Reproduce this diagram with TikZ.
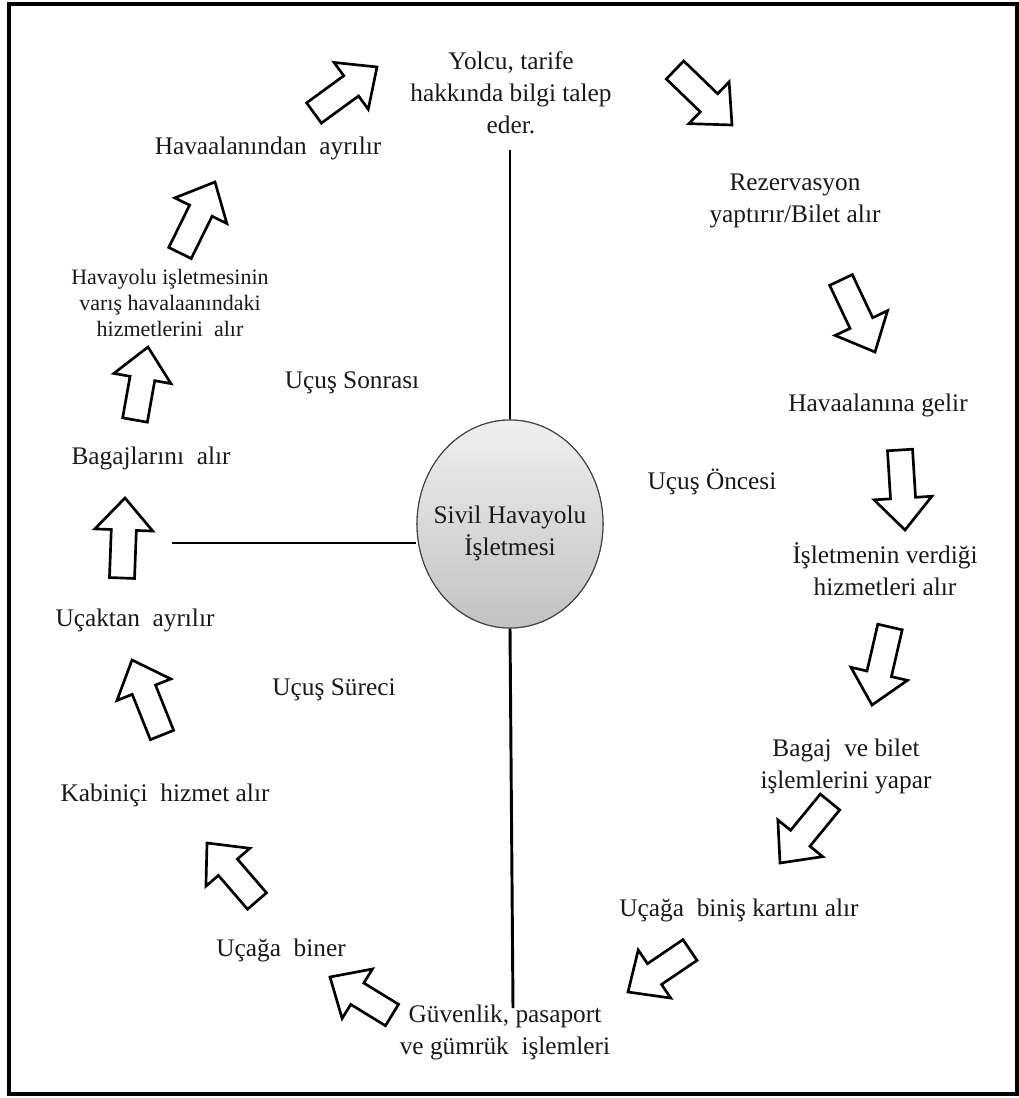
\documentclass[tikz,border=0pt]{standalone}
\usepackage{fontspec}
\setmainfont{Liberation Serif}
\usetikzlibrary{shapes.geometric,calc}
\newcommand\blockarr[2]{%
  \coordinate (bN) at ($(#2)!24pt!(#1)$);
  \draw[barrow] ($(#1)!9.4pt!90:(#2)$) -- ($(bN)!9.4pt!90:(#2)$) -- ($(bN)!21.75pt!90:(#2)$) -- (#2)
     -- ($(bN)!21.75pt!-90:(#2)$) -- ($(bN)!9.4pt!-90:(#2)$) -- ($(#1)!9.4pt!-90:(#2)$) -- cycle;}
\begin{document}
\begin{tikzpicture}[x=0.75pt,y=-0.75pt,
  txt/.style={font=\fontsize{19}{24}\selectfont, align=center, inner sep=0pt, text=black!90},
  smalltxt/.style={font=\fontsize{16.5}{19.5}\selectfont, align=center, inner sep=0pt, text=black!90},
  barrow/.style={draw=black, line width=2pt, fill=white, line join=miter},
  axis/.style={draw=black, line width=2.2pt},
  hub/.style={ellipse, draw=black!75, line width=0.8pt, minimum width=139.5pt, minimum height=156pt,
     inner sep=0pt, top color=black!6, bottom color=black!24}]
\useasboundingbox (0,0) rectangle (1019,1098);
\draw[line width=2.6pt] (9,4) rectangle (1017,1094);

% axes
\coordinate (topend) at (510,150);
\coordinate (botend) at (513,1008);
\coordinate (leftend) at (172,543);
\node[hub] (hub) at (510,524) {};
\draw[axis] (topend) -- (hub.north);
\draw[axis] (hub.south) -- (botend);
\draw[axis] (leftend) -- (leftend -| hub.west);
\node[hub] (hubtop) at (510,524) {};
\node[txt] (hubtext) at (510,533) {Sivil Havayolu\\İşletmesi};

% texts
\node[txt] (yolcu) at (511,93) {Yolcu, tarife\\hakkında bilgi talep\\eder.};
\node[txt] (rez) at (795,201) {Rezervasyon\\yaptırır/Bilet alır};
\node[txt] (gelir) at (878,405) {Havaalanına gelir};
\node[txt] (islet) at (885,569) {İşletmenin verdiği\\hizmetleri alır};
\node[txt] (bagaj) at (846,766) {Bagaj\ \ ve bilet\\işlemlerini yapar};
\node[txt] (binis) at (739,910) {Uçağa\ \ biniş kartını alır};
\node[txt] (guv) at (505,1032) {Güvenlik, pasaport\\ve gümrük\ \ işlemleri};
\node[txt] (biner) at (281,950) {Uçağa\ \ biner};
\node[txt] (kabin) at (165,795) {Kabiniçi\ \ hizmet alır};
\node[txt] (ucaktan) at (135,620) {Uçaktan\ \ ayrılır};
\node[txt] (bagajlar) at (151,458) {Bagajlarını\ \ alır};
\node[smalltxt] (havayolu) at (170,303) {Havayolu işletmesinin\\varış havalaanındaki\\hizmetlerini\ \ alır};
\node[txt] (ayrilir) at (268,148) {Havaalanından\ \ ayrılır};
\node[txt] (sonra) at (352,383) {Uçuş Sonrası};
\node[txt] (once) at (712,482) {Uçuş Öncesi};
\node[txt] (surec) at (334,690) {Uçuş Süreci};

% arrow coordinates
\coordinate (a1t) at (314,113); \coordinate (a1h) at (377,67);
\coordinate (a2t) at (675,70);  \coordinate (a2h) at (732,125);
\coordinate (a3t) at (841,280); \coordinate (a3h) at (875,352);
\coordinate (a4t) at (900,450); \coordinate (a4h) at (905,530);
\coordinate (a5t) at (890,627); \coordinate (a5h) at (872,705);
\coordinate (a6t) at (830,802); \coordinate (a6h) at (780,863);
\coordinate (a7t) at (690,950); \coordinate (a7h) at (628,992);
\coordinate (a8t) at (392,1015); \coordinate (a8h) at (330,977);
\coordinate (a9t) at (257,901); \coordinate (a9h) at (207,843);
\coordinate (a10t) at (162,735); \coordinate (a10h) at (132,660);
\coordinate (a11t) at (122,578); \coordinate (a11h) at (125,498);
\coordinate (a12t) at (135,420); \coordinate (a12h) at (148,347);
\coordinate (a13t) at (180,253); \coordinate (a13h) at (215,182);
\foreach \i in {1,...,13} {\blockarr{a\i t}{a\i h}}
\end{tikzpicture}
\end{document}
